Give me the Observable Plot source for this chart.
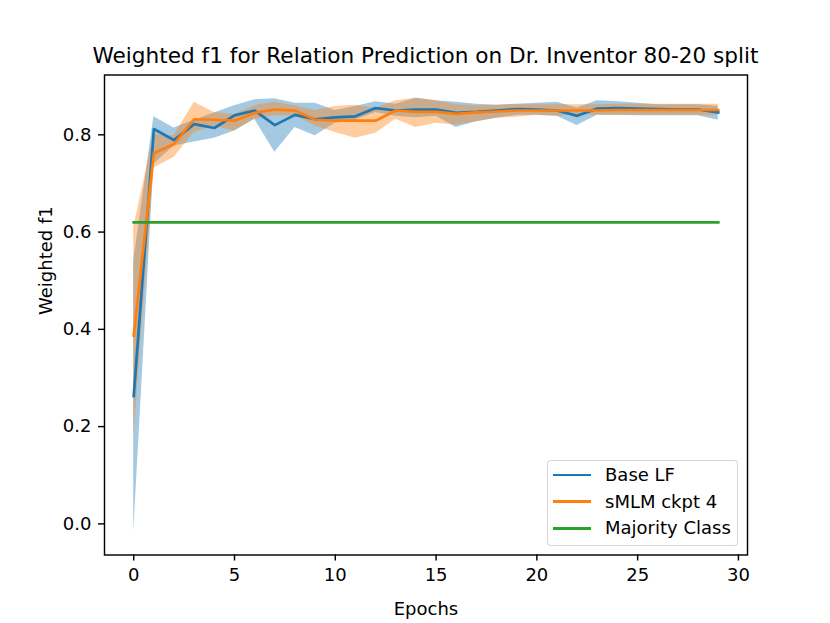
<!DOCTYPE html>
<html>
<head>
<meta charset="utf-8">
<script src="https://cdn.jsdelivr.net/npm/d3@7"></script>
<script src="https://cdn.jsdelivr.net/npm/@observablehq/plot@0.6"></script>
<style>
  html, body { margin: 0; padding: 0; background: white; }
  #wrap { position: relative; width: 830px; height: 623px; font-family: "DejaVu Sans", sans-serif; color: black; }
  #title { box-sizing: border-box; height: 70px; padding-top: 43px; padding-left: 21px; line-height: 26px; font-size: 21.6px; text-align: center; white-space: nowrap; }
  #legend { position: absolute; left: 546.5px; top: 460px; width: 191.5px; height: 85.5px; box-sizing: border-box;
            border: 1.4px solid rgba(204,204,204,0.8); border-radius: 4px; background: rgba(255,255,255,0.8); }
  .lg-sw { position: absolute; height: 2.7px; width: 38px; left: 552.5px; }
  .lg-tx { position: absolute; left: 605px; height: 26px; line-height: 26px; font-size: 18px; white-space: nowrap; }
</style>
</head>
<body>
<div id="wrap">
  <div id="title"></div>
  <div id="chart"></div>
  <div id="legend"></div>
</div>
<script>
// ---- data ----
const titleText = "Weighted f1 for Relation Prediction on Dr. Inventor 80-20 split";
const xLabel = "Epochs";
const yLabel = "Weighted f1";
const seriesNames = ["Base LF", "sMLM ckpt 4", "Majority Class"];
const seriesColors = ["#1f77b4", "#ff7f0e", "#2ca02c"];
const epochs = [0,1,2,3,4,5,6,7,8,9,10,11,12,13,14,15,16,17,18,19,20,21,22,23,24,25,26,27,28,29];
const baseMean = [0.263,0.812,0.789,0.822,0.814,0.840,0.850,0.820,0.841,0.832,0.836,0.838,0.855,0.850,0.852,0.852,0.845,0.847,0.850,0.853,0.852,0.850,0.839,0.854,0.855,0.854,0.853,0.852,0.852,0.846];
const baseLow  = [-0.017,0.740,0.777,0.785,0.793,0.808,0.832,0.764,0.815,0.798,0.824,0.830,0.846,0.838,0.835,0.838,0.815,0.827,0.834,0.840,0.840,0.838,0.819,0.840,0.840,0.839,0.839,0.839,0.839,0.830];
const baseHigh = [0.540,0.837,0.814,0.830,0.845,0.860,0.872,0.874,0.865,0.865,0.850,0.858,0.868,0.863,0.875,0.870,0.867,0.863,0.861,0.863,0.865,0.867,0.855,0.870,0.868,0.865,0.862,0.862,0.862,0.858];
const smlmMean = [0.387,0.762,0.781,0.832,0.831,0.829,0.845,0.852,0.850,0.831,0.829,0.829,0.829,0.850,0.847,0.847,0.843,0.846,0.848,0.850,0.850,0.850,0.850,0.850,0.851,0.851,0.851,0.851,0.851,0.851];
const smlmLow  = [0.178,0.732,0.754,0.805,0.818,0.808,0.832,0.839,0.839,0.818,0.805,0.793,0.803,0.832,0.815,0.824,0.820,0.827,0.834,0.836,0.840,0.838,0.842,0.840,0.840,0.840,0.840,0.840,0.840,0.840];
const smlmHigh = [0.610,0.800,0.798,0.867,0.846,0.842,0.860,0.867,0.860,0.850,0.858,0.861,0.854,0.870,0.875,0.870,0.862,0.860,0.861,0.862,0.862,0.862,0.862,0.862,0.863,0.863,0.863,0.863,0.863,0.863];
const majorityValue = 0.62;
const xTicks = [0,5,10,15,20,25,30];
const yTicks = [0.0,0.2,0.4,0.6,0.8];
const xDomain = [-1.45, 30.45];
const yDomain = [-0.064, 0.923];

// ---- tables ----
const rows = [];
epochs.forEach((e, i) => {
  rows.push({series: seriesNames[0], epoch: e, mean: baseMean[i], lo: baseLow[i], hi: baseHigh[i]});
});
epochs.forEach((e, i) => {
  rows.push({series: seriesNames[1], epoch: e, mean: smlmMean[i], lo: smlmLow[i], hi: smlmHigh[i]});
});
const majority = epochs.map(e => ({series: seriesNames[2], epoch: e, mean: majorityValue}));

document.getElementById("title").textContent = titleText;

const chart = Plot.plot({
  width: 830,
  height: 553,
  marginTop: 4.5,
  marginBottom: 68.5,
  marginLeft: 104,
  marginRight: 83,
  style: {fontFamily: "DejaVu Sans, sans-serif", fontSize: "18px", background: "white", color: "black", overflow: "visible"},
  x: {domain: xDomain},
  y: {domain: yDomain},
  marks: [
    Plot.areaY(rows.filter(d => d.series === seriesNames[0]), {x: "epoch", y1: "lo", y2: "hi", fill: seriesColors[0], fillOpacity: 0.4}),
    Plot.areaY(rows.filter(d => d.series === seriesNames[1]), {x: "epoch", y1: "lo", y2: "hi", fill: seriesColors[1], fillOpacity: 0.4}),
    Plot.line(rows.filter(d => d.series === seriesNames[0]), {x: "epoch", y: "mean", stroke: seriesColors[0], strokeWidth: 2.7, strokeLinejoin: "round", strokeLinecap: "square"}),
    Plot.line(rows.filter(d => d.series === seriesNames[1]), {x: "epoch", y: "mean", stroke: seriesColors[1], strokeWidth: 2.7, strokeLinejoin: "round", strokeLinecap: "square"}),
    Plot.line(majority, {x: "epoch", y: "mean", stroke: seriesColors[2], strokeWidth: 2.7, strokeLinecap: "square"}),
    Plot.frame({stroke: "black", strokeWidth: 1.44}),
    Plot.axisX({ticks: xTicks, tickSize: 6, tickPadding: 7.5, tickFormat: d => String(d), label: null, strokeWidth: 1.44, fontSize: 18}),
    Plot.axisY({ticks: yTicks, tickSize: 6, tickPadding: 7, tickFormat: d => d.toFixed(1), label: null, strokeWidth: 1.44, fontSize: 18}),
    Plot.text([xLabel], {frameAnchor: "bottom", dy: 54, fontSize: 18, text: d => d, lineAnchor: "middle"}),
    Plot.text([yLabel], {frameAnchor: "left", dx: -58, rotate: -90, fontSize: 18, text: d => d, lineAnchor: "middle"})
  ]
});
document.getElementById("chart").appendChild(chart);

// ---- legend ----
const wrap = document.getElementById("wrap");
const rowCenters = [475, 501.7, 528.3];
seriesNames.forEach((name, i) => {
  const sw = document.createElement("div");
  sw.className = "lg-sw";
  sw.style.top = (rowCenters[i] - 1.35) + "px";
  sw.style.background = seriesColors[i];
  wrap.appendChild(sw);
  const tx = document.createElement("div");
  tx.className = "lg-tx";
  tx.style.top = (rowCenters[i] - 13) + "px";
  tx.textContent = name;
  wrap.appendChild(tx);
});
</script>
</body>
</html>
